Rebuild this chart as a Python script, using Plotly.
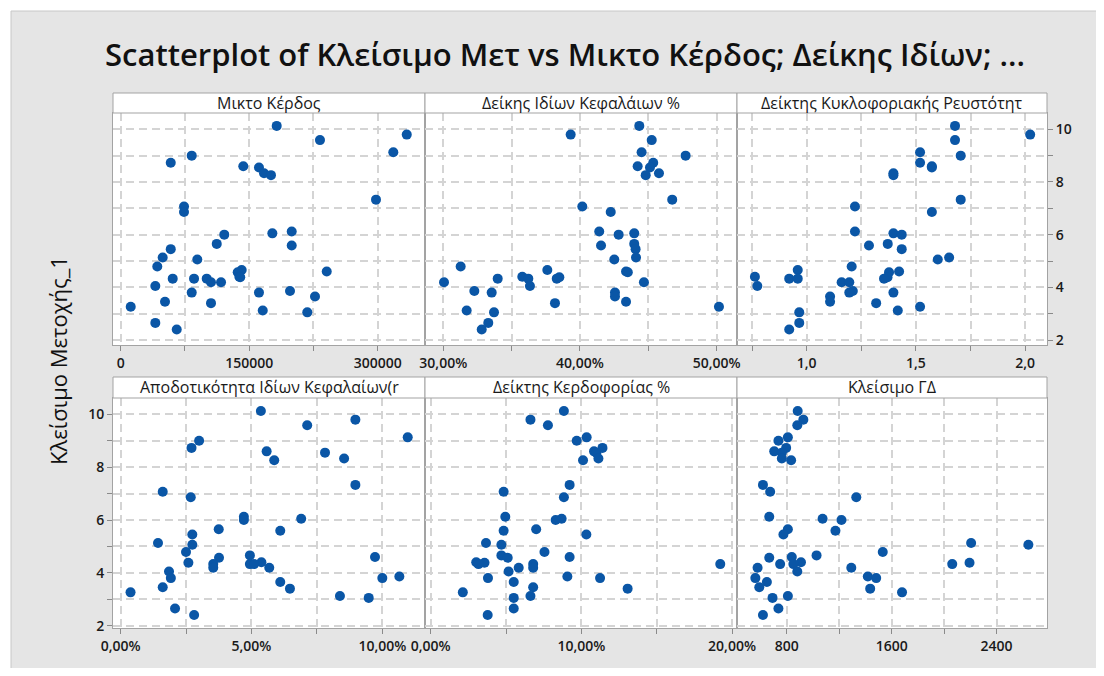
import plotly.graph_objects as go

# ---------------- data ----------------
y_close = [10.13, 9.80, 9.59, 9.13, 9.00, 8.73, 8.60, 8.55, 8.33, 8.26,
           7.33, 7.07, 6.86, 6.12, 6.05, 6.00, 5.65, 5.59, 5.45, 5.13,
           5.06, 4.79, 4.66, 4.60, 4.57, 4.40, 4.38, 4.33, 4.33, 4.33,
           4.19, 4.19, 4.05, 3.86, 3.80, 3.80, 3.65, 3.45, 3.40, 3.26,
           3.12, 3.05, 2.65, 2.40]

gross_profit = [182100, 333900, 232600, 318200, 82900, 58400, 143100, 161400, 167300, 175400,
                298000, 73900, 73900, 199600, 177000, 120900, 112100, 199600, 58400, 49000,
                89400, 42700, 141200, 240500, 136600, 138500, 139500, 60700, 85600, 100400,
                105400, 117100, 40400, 197600, 82900, 161400, 226800, 51700, 105400, 11700,
                165800, 217800, 40400, 65400]

equity_ratio = [44.34, 39.32, 45.25, 44.51, 47.73, 45.36, 44.22, 45.12, 45.78, 44.81,
                46.75, 40.17, 42.25, 41.41, 43.97, 42.83, 43.97, 41.54, 44.07, 44.10,
                42.51, 31.27, 37.61, 43.37, 43.50, 35.78, 38.49, 33.98, 36.22, 38.30,
                30.05, 44.68, 36.34, 32.27, 33.54, 42.56, 42.56, 43.37, 38.17, 50.17,
                31.71, 33.71, 33.29, 32.81]

current_ratio = [1.679, 2.023, 1.679, 1.519, 1.705, 1.519, 1.573, 1.573, 1.397, 1.397,
                 1.705, 1.221, 1.573, 1.221, 1.397, 1.435, 1.371, 1.285, 1.435, 1.652,
                 1.600, 1.206, 0.959, 1.423, 1.377, 0.763, 1.370, 0.920, 0.959, 1.354,
                 1.160, 1.195, 0.774, 1.211, 1.195, 1.397, 1.107, 1.107, 1.318, 1.519,
                 1.417, 0.966, 0.966, 0.920]

roe = [5.36, 8.97, 7.13, 10.97, 3.00, 2.71, 5.58, 7.81, 8.54, 5.87,
       8.97, 1.61, 2.68, 4.71, 6.90, 4.71, 3.75, 6.10, 2.74, 1.43,
       2.74, 2.50, 4.94, 9.72, 3.76, 5.38, 2.59, 3.54, 4.94, 5.10,
       3.54, 5.68, 1.85, 10.65, 1.92, 10.00, 6.10, 1.61, 6.47, 0.38,
       8.38, 9.48, 2.08, 2.81]

profit_margin = [8.84, 6.62, 7.78, 10.35, 9.69, 11.40, 10.84, 11.00, 11.13, 10.11,
                 9.22, 4.84, 8.84, 4.95, 8.69, 8.29, 7.00, 4.84, 10.33, 3.67,
                 4.69, 7.55, 4.69, 9.22, 5.11, 3.02, 3.57, 19.22, 3.17, 6.80,
                 5.84, 6.80, 5.17, 9.07, 3.80, 11.24, 5.51, 6.80, 13.07, 2.13,
                 6.62, 5.51, 5.51, 3.78]

gd_close = [883, 926, 880, 808, 736, 795, 704, 762, 762, 833,
            618, 673, 1330, 666, 1073, 1217, 808, 1171, 774, 2206,
            2643, 1532, 1027, 838, 666, 908, 2194, 749, 850, 2062,
            577, 1292, 880, 1418, 560, 1482, 648, 590, 1436, 1679,
            808, 691, 736, 618]

panel_titles = ["Μικτο Κέρδος", "Δείκης Ιδίων Κεφαλάιων %", "Δείκτης Κυκλοφοριακής Ρευστότητ",
                "Αποδοτικότητα Ιδίων Κεφαλαίων(r", "Δείκτης Κερδοφορίας %", "Κλείσιμο ΓΔ"]
x_series = [gross_profit, equity_ratio, current_ratio, roe, profit_margin, gd_close]

title_text = "Scatterplot of Κλείσιμο Μετ vs Μικτο Κέρδος; Δείκης Ιδίων; ..."
y_title = "Κλείσιμο Μετοχής_1"

# x axis settings per panel (grid positions; labels only on every other one)
x_ranges = [[-9000, 355200], [28.66, 51.49], [0.681, 2.10], [-0.29, 11.63], [-0.38, 20.33], [420, 2785]]
x_gridvals = [[0, 75000, 150000, 225000, 300000], [30, 35, 40, 45, 50], [0.75, 1.0, 1.25, 1.5, 1.75, 2.0],
              [0, 2.5, 5, 7.5, 10], [0, 5, 10, 15, 20], [400, 800, 1200, 1600, 2000, 2400]]
x_ticktext = [["0", "", "150000", "", "300000"], ["30,00%", "", "40,00%", "", "50,00%"],
              ["", "1,0", "", "1,5", "", "2,0"], ["0,00%", "", "5,00%", "", "10,00%"],
              ["0,00%", "", "10,00%", "", "20,00%"], ["", "800", "", "1600", "", "2400"]]
y_ranges = [[1.81, 10.62], [1.91, 10.62]]
y_gridvals = [2, 3, 4, 5, 6, 7, 8, 9, 10]
y_ticktext = ["2", "", "4", "", "6", "", "8", "", "10"]

# ---------------- layout geometry (page pixels; page body has an 8px margin) ----------------
PAGE_W, PAGE_H = 1104, 676
M = 8
W, H = PAGE_W - 2 * M, PAGE_H - 2 * M
def fx(px):
    return (px - M) / W
def fy(py):
    return 1 - (py - M) / H

cols = [(113, 425), (425, 737), (737, 1047)]
rows_plot = [(113, 345), (398, 628)]
rows_head = [(93, 113), (377, 398)]

BLUE = "#0a56a6"
GRID = "#d4d4d4"
FRAME = "#a3a3a3"
BG_GRAY = "#e5e5e5"
FONT = "Open Sans"
GRIDDASH = "8px,5px"

fig = go.Figure()
layout = dict(
    template="none",
    width=W, height=H,
    margin=dict(l=0, r=0, t=0, b=0),
    paper_bgcolor="white",
    plot_bgcolor="white",
    showlegend=False,
    font=dict(family=FONT, color="#1a1a1a", size=14),
)

def gray_rect(px0, px1, py0, py1):
    return dict(type="rect", xref="paper", yref="paper",
                x0=fx(px0), x1=fx(px1), y0=fy(py1), y1=fy(py0),
                fillcolor=BG_GRAY, line=dict(width=0), layer="below")

X_END, Y_END = PAGE_W + 20, PAGE_H + 20
shapes = [
    gray_rect(11, X_END, 11, 113),
    gray_rect(11, X_END, 345, 398),
    gray_rect(11, X_END, 628, Y_END),
    gray_rect(11, 113, 113, 628),
    gray_rect(1047, X_END, 113, 628),
    dict(type="line", xref="paper", yref="paper", x0=fx(11), x1=fx(X_END), y0=fy(11), y1=fy(11),
         line=dict(color="#c8c8c8", width=1), layer="below"),
    dict(type="line", xref="paper", yref="paper", x0=fx(11), x1=fx(11), y0=fy(Y_END), y1=fy(11),
         line=dict(color="#c8c8c8", width=1), layer="below"),
]
annotations = []

for i in range(6):
    r, c = divmod(i, 3)
    n = i + 1
    xa = "x" if n == 1 else f"x{n}"
    ya = "y" if n == 1 else f"y{n}"
    fig.add_trace(go.Scatter(x=x_series[i], y=y_close, mode="markers", xaxis=xa, yaxis=ya,
                             marker=dict(color=BLUE, size=10), hoverinfo="x+y"))
    x0, x1 = cols[c]
    y0, y1 = rows_plot[r]
    ax_common = dict(showline=True, mirror=True, linecolor=FRAME, linewidth=1,
                     showgrid=True, gridcolor=GRID, griddash=GRIDDASH, gridwidth=1.5,
                     zeroline=False, ticks="outside", ticklen=5, tickcolor="#8a8a8a",
                     tickfont=dict(family=FONT, size=14, color="#1a1a1a", weight=600))
    layout["xaxis" if n == 1 else f"xaxis{n}"] = dict(
        ax_common, domain=[fx(x0), fx(x1)], anchor=ya, range=x_ranges[i],
        tickmode="array", tickvals=x_gridvals[i], ticktext=x_ticktext[i],
    )
    show_y = (r == 0 and c == 2) or (r == 1 and c == 0)
    layout["yaxis" if n == 1 else f"yaxis{n}"] = dict(
        ax_common, domain=[fy(y1), fy(y0)], anchor=xa, range=y_ranges[r],
        tickmode="array", tickvals=y_gridvals, ticktext=y_ticktext,
        side="right" if r == 0 else "left",
        showticklabels=show_y, ticks="outside" if show_y else "",
    )
    h0, h1 = rows_head[r]
    shapes.append(dict(type="rect", xref="paper", yref="paper", x0=fx(x0), x1=fx(x1),
                       y0=fy(h1), y1=fy(h0), fillcolor="white", line=dict(color=FRAME, width=1)))
    annotations.append(dict(xref="paper", yref="paper", x=fx((x0 + x1) / 2), y=fy((h0 + h1) / 2),
                            text=panel_titles[i], showarrow=False, xanchor="center", yanchor="middle",
                            font=dict(family=FONT, size=16, color="#1a1a1a")))

annotations.append(dict(xref="paper", yref="paper", x=fx(565), y=fy(54), text=title_text,
                        showarrow=False, xanchor="center", yanchor="middle",
                        font=dict(family=FONT, size=31, color="#111111", weight=600)))
annotations.append(dict(xref="paper", yref="paper", x=fx(58), y=fy(361), text=y_title,
                        showarrow=False, textangle=-90, xanchor="center", yanchor="middle",
                        font=dict(family=FONT, size=22, color="#111111")))

layout["shapes"] = shapes
layout["annotations"] = annotations
fig.update_layout(**layout)
fig.write_html("out.html")
